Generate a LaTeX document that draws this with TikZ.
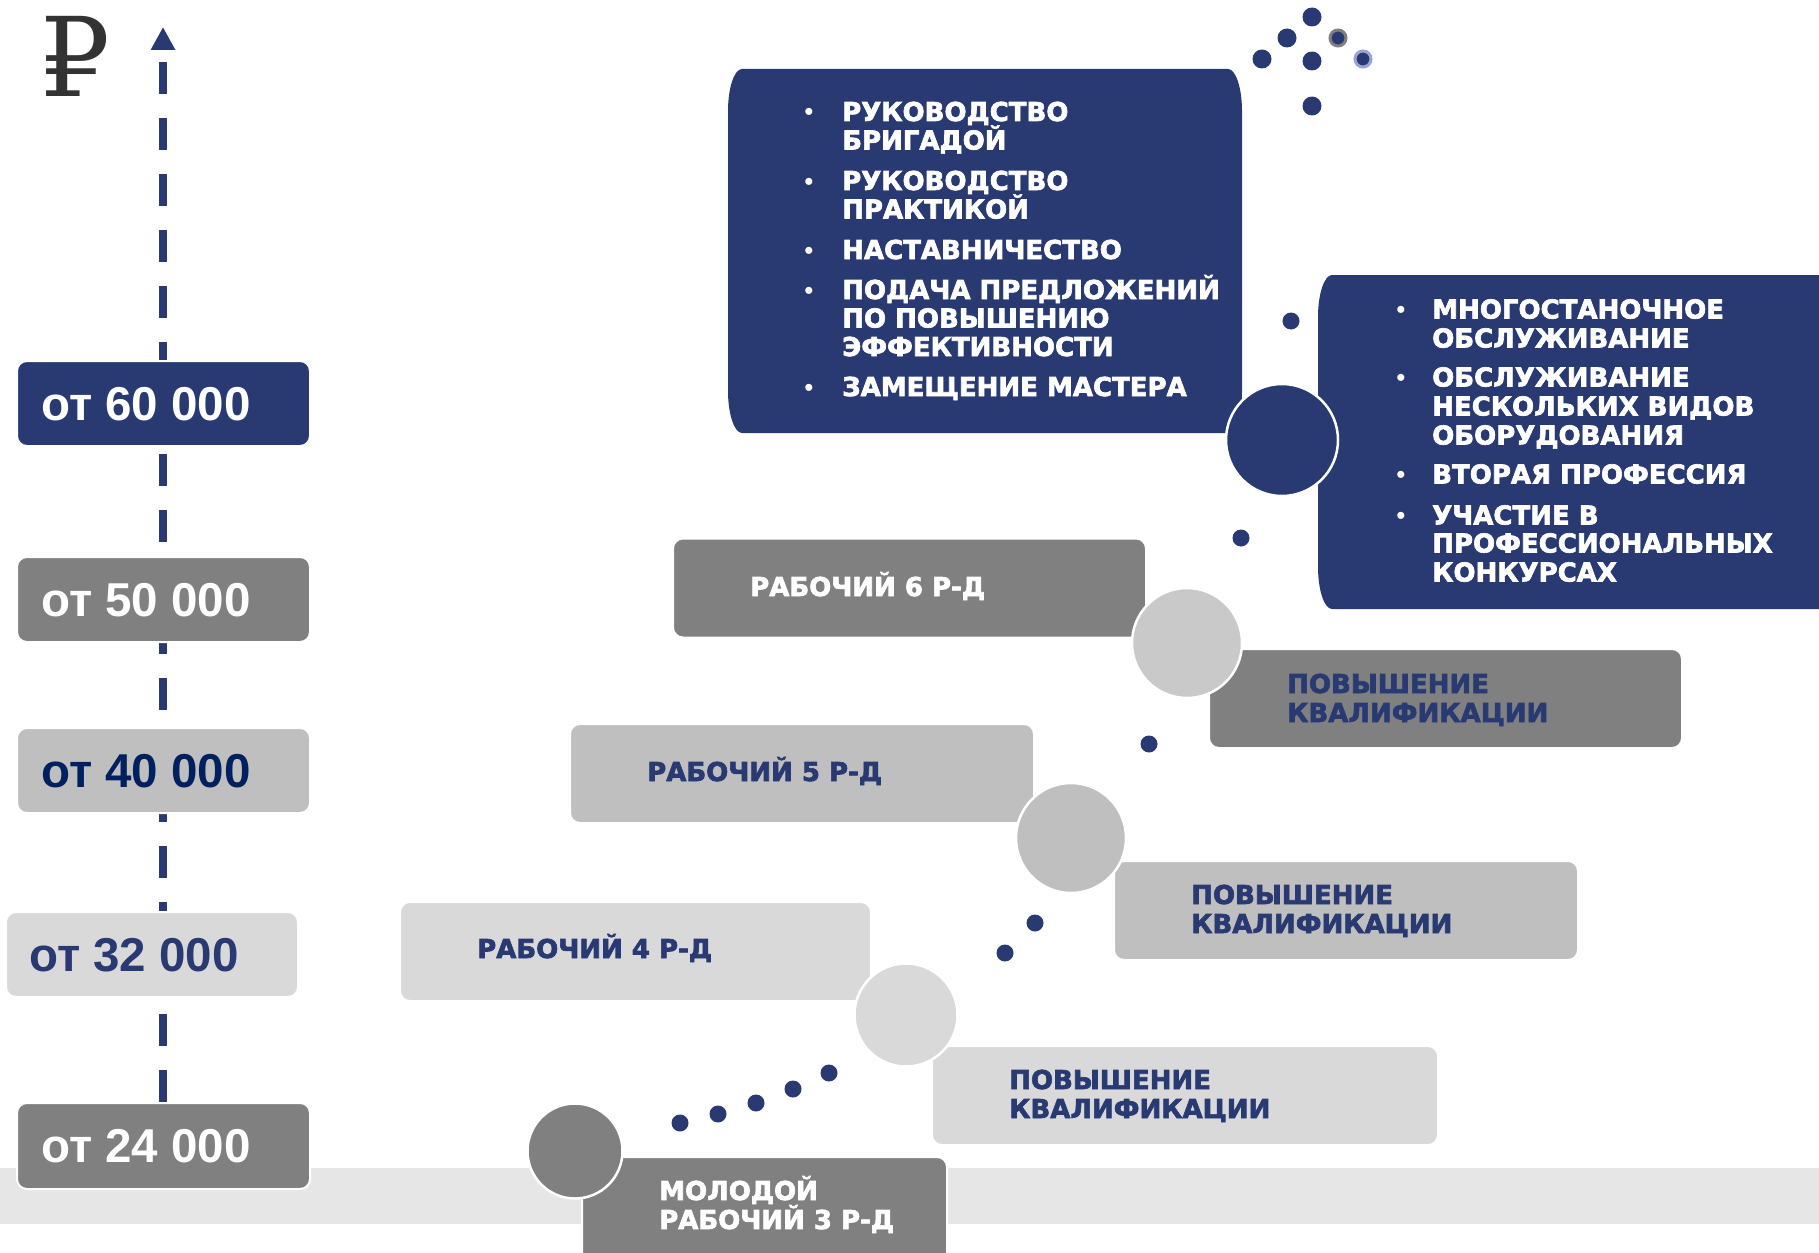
\documentclass[tikz,border=0pt]{standalone}
\usepackage{fontspec}
\setmainfont{Liberation Sans}
\newfontfamily\heavyfont{DejaVu Sans}[BoldFeatures={FakeBold=2.5}]
\newfontfamily\rubfont{DejaVu Serif}
\usetikzlibrary{arrows.meta}
\definecolor{navy}{HTML}{293A73}
\definecolor{navyd}{HTML}{002060}
\definecolor{gdark}{HTML}{808080}
\definecolor{gmid}{HTML}{BFBFBF}
\definecolor{glight}{HTML}{D9D9D9}
\definecolor{gcirc}{HTML}{C9C9C9}
\definecolor{band}{HTML}{E6E6E6}
\definecolor{rubgray}{HTML}{333333}
\definecolor{ringgray}{HTML}{7F7F7F}
\definecolor{ringblue}{HTML}{9AA3D6}
\begin{document}
\begin{tikzpicture}[x=1pt,y=-1pt,
  salbox/.style={draw=white, line width=2pt, rounded corners=10pt, minimum width=293pt, minimum height=85pt, inner sep=0pt},
  labbox/.style={draw=white, line width=2pt, rounded corners=10pt, inner sep=0pt},
  amt/.style={font=\bfseries\fontsize{47.5}{50}\selectfont, anchor=base west, inner sep=0pt},
  lbl/.style={font=\heavyfont\bfseries\fontsize{26}{29}\selectfont, anchor=base west, inner sep=0pt},
  blt/.style={font=\fontsize{26}{29}\selectfont, anchor=base, inner sep=0pt, text=white},
  stepcirc/.style={circle, draw=white, line width=2.5pt, inner sep=0pt},
  axisline/.style={navy, line width=8pt, dash pattern=on 32pt off 24pt, -{Triangle[length=23pt,width=23pt]}}
]
\useasboundingbox (0,0) rectangle (1819,1252);
\clip (0,0) rectangle (1819,1252);
% bottom band
\fill[band] (0,1168) rectangle (1819,1224);
% ruble sign
\node[anchor=base west, inner sep=0pt, text=rubgray, font=\rubfont\fontsize{110}{110}\selectfont] (rub) at (40,97) {₽};
% axis
\coordinate (axbot) at (163,1102);
\coordinate (axtop) at (163,27);
\draw[axisline] (axbot) -- (axtop);
% salary boxes
\node[salbox, fill=navy] (s60) at (163.5,403.5) {};
\node[amt, text=white] (t60) at (41,420) {от 60 000};
\node[salbox, fill=gdark] (s50) at (163.5,599.5) {};
\node[amt, text=white] (t50) at (41,616) {от 50 000};
\node[salbox, fill=gmid] (s40) at (163.5,770.5) {};
\node[amt, text=navyd] (t40) at (41,787) {от 40 000};
\node[salbox, fill=glight, minimum width=292pt] (s32) at (152,954.5) {};
\node[amt, text=navy] (t32) at (29,971) {от 32 000};
\node[salbox, fill=gdark, minimum height=86pt] (s24) at (163.5,1146) {};
\node[amt, text=white] (t24) at (41,1162.5) {от 24 000};
% navy box 1
\fill[navy] (742,69) -- (1228,69) .. controls (1235.7,69) and (1242,87.8) .. (1242,111)
  -- (1242,391) .. controls (1242,414.2) and (1235.7,433) .. (1228,433)
  -- (742,433) .. controls (734.3,433) and (728,414.2) .. (728,391)
  -- (728,111) .. controls (728,87.8) and (734.3,69) .. (742,69) -- cycle;
\node[blt] (b11) at (809,121) {•};
\node[lbl, text=white] (l11) at (842,121) {РУКОВОДСТВО};
\node[lbl, text=white] (l12) at (842,149.5) {БРИГАДОЙ};
\node[blt] (b12) at (809,190) {•};
\node[lbl, text=white] (l13) at (842,190) {РУКОВОДСТВО};
\node[lbl, text=white] (l14) at (842,218.5) {ПРАКТИКОЙ};
\node[blt] (b13) at (809,259) {•};
\node[lbl, text=white] (l15) at (842,259) {НАСТАВНИЧЕСТВО};
\node[blt] (b14) at (809,299) {•};
\node[lbl, text=white] (l16) at (842,299) {ПОДАЧА ПРЕДЛОЖЕНИЙ};
\node[lbl, text=white] (l17) at (842,327.5) {ПО ПОВЫШЕНИЮ};
\node[lbl, text=white] (l18) at (842,356) {ЭФФЕКТИВНОСТИ};
\node[blt] (b15) at (809,396) {•};
\node[lbl, text=white] (l19) at (842,396) {ЗАМЕЩЕНИЕ МАСТЕРА};
% navy box 2
\fill[navy] (1332,275) -- (1840,275) -- (1840,609) -- (1332,609)
  .. controls (1324.3,609) and (1318,590.2) .. (1318,567)
  -- (1318,317) .. controls (1318,293.8) and (1324.3,275) .. (1332,275) -- cycle;
\node[blt] (b21) at (1401,318.5) {•};
\node[lbl, text=white] (l21) at (1432,318.5) {МНОГОСТАНОЧНОЕ};
\node[lbl, text=white] (l22) at (1432,347.5) {ОБСЛУЖИВАНИЕ};
\node[blt] (b22) at (1401,386.5) {•};
\node[lbl, text=white] (l23) at (1432,386.5) {ОБСЛУЖИВАНИЕ};
\node[lbl, text=white] (l24) at (1432,415.5) {НЕСКОЛЬКИХ ВИДОВ};
\node[lbl, text=white] (l25) at (1432,444.5) {ОБОРУДОВАНИЯ};
\node[blt] (b23) at (1401,483.5) {•};
\node[lbl, text=white] (l26) at (1432,483.5) {ВТОРАЯ ПРОФЕССИЯ};
\node[blt] (b24) at (1401,524.5) {•};
\node[lbl, text=white] (l27) at (1432,524.5) {УЧАСТИЕ В};
\node[lbl, text=white] (l28) at (1432,552.5) {ПРОФЕССИОНАЛЬНЫХ};
\node[lbl, text=white] (l29) at (1432,581.5) {КОНКУРСАХ};
\node[stepcirc, fill=navy, minimum size=112pt] (cn) at (1282,440) {};
% dots
\foreach \p in {(1312,17),(1287,38),(1262,59),(1312,61),(1312,106)}
  \fill[navy] \p circle[radius=9.5];
\fill[navy] (1338,38) circle[radius=8];
\draw[ringgray, line width=3pt] (1338,38) circle[radius=8];
\fill[navy] (1363,59) circle[radius=8];
\draw[ringblue, line width=3pt] (1363,59) circle[radius=8];
\foreach \p in {(680,1123),(718,1114),(756,1103),(793,1089),(829,1073),(1005,953),(1035,923),(1149,744),(1241,538),(1291,321)}
  \fill[navy] \p circle[radius=8.5];
% level 6
\node[labbox, fill=gdark, minimum width=473pt, minimum height=99pt] (r6) at (909.5,588) {};
\node[lbl, text=white] (tr6) at (750,596) {РАБОЧИЙ 6 Р-Д};
\node[labbox, fill=gdark, minimum width=473pt, minimum height=99pt] (q1) at (1445.5,698.5) {};
\node[lbl, text=navy] (tq1a) at (1287,693) {ПОВЫШЕНИЕ};
\node[lbl, text=navy] (tq1b) at (1287,722) {КВАЛИФИКАЦИИ};
\node[stepcirc, fill=gcirc, minimum size=110pt] (c1) at (1187,643) {};
% level 5
\node[labbox, fill=gmid, minimum width=464pt, minimum height=99pt] (r5) at (802,773.5) {};
\node[lbl, text=navy] (tr5) at (647,781) {РАБОЧИЙ 5 Р-Д};
\node[labbox, fill=gmid, minimum width=464pt, minimum height=99pt] (q2) at (1346,910.5) {};
\node[lbl, text=navy] (tq2a) at (1191,904) {ПОВЫШЕНИЕ};
\node[lbl, text=navy] (tq2b) at (1191,933) {КВАЛИФИКАЦИИ};
\node[stepcirc, fill=gmid, minimum size=110pt] (c2) at (1071,838) {};
% level 4
\node[labbox, fill=glight, minimum width=471pt, minimum height=99pt] (r4) at (635.5,951.5) {};
\node[lbl, text=navy] (tr4) at (477,958) {РАБОЧИЙ 4 Р-Д};
\node[labbox, fill=glight, minimum width=506pt, minimum height=99pt] (q3) at (1185,1095.5) {};
\node[lbl, text=navy] (tq3a) at (1009,1089) {ПОВЫШЕНИЕ};
\node[lbl, text=navy] (tq3b) at (1009,1118) {КВАЛИФИКАЦИИ};
\node[stepcirc, fill=glight, minimum size=103pt] (c3) at (906,1015) {};
% level 3
\node[labbox, fill=gdark, minimum width=365pt, minimum height=110pt] (m3) at (764.5,1212) {};
\node[lbl, text=white] (tm3a) at (659,1200) {МОЛОДОЙ};
\node[lbl, text=white] (tm3b) at (659,1229) {РАБОЧИЙ 3 Р-Д};
\node[stepcirc, fill=gdark, minimum size=95pt] (c4) at (575,1151) {};
\end{tikzpicture}
\end{document}
